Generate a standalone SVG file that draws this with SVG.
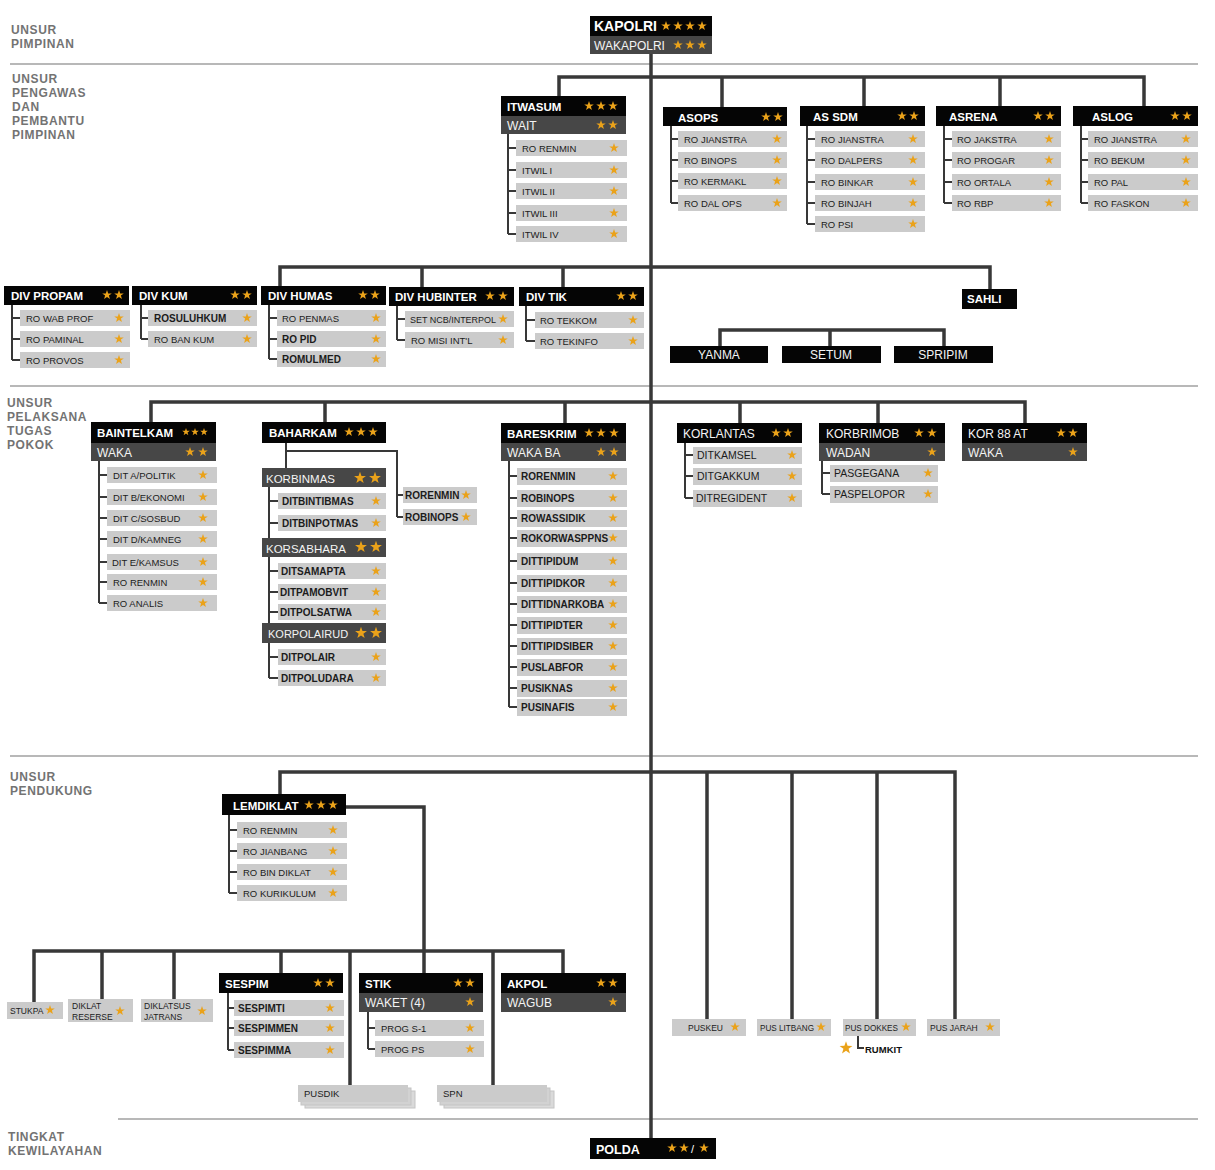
<svg xmlns="http://www.w3.org/2000/svg" width="1215" height="1170" viewBox="0 0 1215 1170">
<style>
.sec{font:bold 12px "Liberation Sans",Arial,sans-serif;fill:#737373;letter-spacing:0.6px}
.dv{stroke:#b8b8b8;stroke-width:2}
.k{fill:#050505}
.g{fill:#474747}
.c{fill:#cbcbcb}
.h{font:bold 11.5px "Liberation Sans",Arial,sans-serif;fill:#fff}
.hr{font:12px "Liberation Sans",Arial,sans-serif;fill:#f4f4f4}
.t{font:9.5px "Liberation Sans",Arial,sans-serif;fill:#1c1c1c}
.tb{font:bold 10px "Liberation Sans",Arial,sans-serif;fill:#1c1c1c}
.tm{font:10.5px "Liberation Sans",Arial,sans-serif;fill:#1c1c1c}
.ts{font:8.5px "Liberation Sans",Arial,sans-serif;fill:#1c1c1c}
.s{fill:#eaa21a}
.bar{stroke:#383838;stroke-width:3.5;fill:none}
.ln{stroke:#383838;stroke-width:2;fill:none}
</style>
<defs>
<path id="st" d="M0,-5L1.18,-1.62L4.76,-1.55L1.9,0.62L2.94,4.05L0,2L-2.94,4.05L-1.9,0.62L-4.76,-1.55L-1.18,-1.62Z"/>
</defs>
<rect width="1215" height="1170" fill="#fff"/>

<g id="sections">
<line class="dv" x1="10" y1="64" x2="1198" y2="64"/>
<line class="dv" x1="10" y1="386" x2="1198" y2="386"/>
<line class="dv" x1="10" y1="756" x2="1198" y2="756"/>
<line class="dv" x1="118" y1="1119" x2="1198" y2="1119"/>
<text class="sec" x="11" y="34">UNSUR</text>
<text class="sec" x="11" y="48">PIMPINAN</text>
<text class="sec" x="12" y="83">UNSUR</text>
<text class="sec" x="12" y="97">PENGAWAS</text>
<text class="sec" x="12" y="111">DAN</text>
<text class="sec" x="12" y="125">PEMBANTU</text>
<text class="sec" x="12" y="139">PIMPINAN</text>
<text class="sec" x="7" y="407">UNSUR</text>
<text class="sec" x="7" y="421">PELAKSANA</text>
<text class="sec" x="7" y="435">TUGAS</text>
<text class="sec" x="7" y="449">POKOK</text>
<text class="sec" x="10" y="781">UNSUR</text>
<text class="sec" x="10" y="795">PENDUKUNG</text>
<text class="sec" x="8" y="1141">TINGKAT</text>
<text class="sec" x="8" y="1155">KEWILAYAHAN</text>
</g>

<g id="connectors">
<path class="bar" d="M651,54V1138"/>
<path class="bar" d="M559,96V77H1144V106M722,77V107M864,77V106M1000,77V106"/>
<path class="bar" d="M280,286V267H990V289M422,267V287M563,267V287"/>
<path class="bar" d="M720,346V330H944V346M830,330V346"/>
<path class="bar" d="M151,422V402H1025V423M325,402V422M565,402V423M740,402V423M878,402V423"/>
<path class="bar" d="M280,794V772H955V1019M707,772V1019M792,772V1019M877,772V1019"/>
<path class="bar" d="M346,807H424V973"/>
<path class="bar" d="M34,1002V951H563V973M102,951V999M174,951V999M281,951V973M350,951V1085M493,951V1085"/>
<path class="ln" d="M508,134V234M508,148H516M508,170H516M508,191H516M508,213H516M508,234H516"/>
<path class="ln" d="M671,126V203M671,139H678M671,160H678M671,181H678M671,203H678"/>
<path class="ln" d="M807,126V224M807,139H815M807,160H815M807,182H815M807,203H815M807,224H815"/>
<path class="ln" d="M944,126V203M944,139H952M944,160H952M944,182H952M944,203H952"/>
<path class="ln" d="M1081,126V203M1081,139H1088M1081,160H1088M1081,182H1088M1081,203H1088"/>
<path class="ln" d="M12,305V360M12,318H20M12,339H20M12,360H20"/>
<path class="ln" d="M141,305V339M141,318H148M141,339H148"/>
<path class="ln" d="M269,305V359M269,318H277M269,339H277M269,359H277"/>
<path class="ln" d="M397,306V340M397,319H405M397,340H405"/>
<path class="ln" d="M526,306V341M526,320H535M526,341H535"/>
<path class="ln" d="M99,461V603M99,475H107M99,497H107M99,518H107M99,539H107M99,562H107M99,582H107M99,603H107"/>
<path class="ln" d="M286,443V468M286,451H397V517M397,495H403M397,517H403"/>
<path class="ln" d="M269,487V678M269,501H278M269,523H278M269,571H278M269,592H278M269,612H278M269,657H278M269,678H278"/>
<path class="ln" d="M509,461V707M509,476H517M509,498H517M509,518H517M509,538H517M509,561H517M509,583H517M509,604H517M509,625H517M509,646H517M509,667H517M509,688H517M509,707H517"/>
<path class="ln" d="M685,443V498M685,455H693M685,476H693M685,498H693"/>
<path class="ln" d="M822,461V494M822,473H830M822,494H830"/>
<path class="ln" d="M229,815V893M229,830H237M229,851H237M229,872H237M229,893H237"/>
<path class="ln" d="M228,993V1050M228,1008H234M228,1028H234M228,1050H234"/>
<path class="ln" d="M368,1012V1049M368,1028H375M368,1049H375"/>
<path class="ln" d="M858,1036V1048H864"/>
</g>

<g id="kapolri">
<rect class="k" x="590" y="16" width="122" height="20"/>
<text x="594" y="31" style="font:bold 14px 'Liberation Sans',Arial,sans-serif;fill:#fff">KAPOLRI</text>
<use href="#st" class="s" x="666" y="26"/><use href="#st" class="s" x="678" y="26"/><use href="#st" class="s" x="690" y="26"/><use href="#st" class="s" x="702" y="26"/>
<rect class="g" x="590" y="36" width="122" height="18"/>
<text class="hr" x="594" y="50">WAKAPOLRI</text>
<use href="#st" class="s" x="678" y="45"/><use href="#st" class="s" x="690" y="45"/><use href="#st" class="s" x="702" y="45"/>
</g>

<g id="itwasum">
<rect class="k" x="501" y="96" width="125" height="20"/>
<text class="h" x="507" y="111">ITWASUM</text>
<use href="#st" class="s" x="589" y="106"/><use href="#st" class="s" x="601" y="106"/><use href="#st" class="s" x="613" y="106"/>
<rect class="g" x="501" y="116" width="125" height="18"/>
<text class="hr" x="507" y="130">WAIT</text>
<use href="#st" class="s" x="601" y="125"/><use href="#st" class="s" x="613" y="125"/>
<rect class="c" x="516" y="140" width="111" height="16"/><text class="t" x="522" y="151.5">RO RENMIN</text><use href="#st" class="s" x="614" y="148"/>
<rect class="c" x="516" y="162" width="111" height="16"/><text class="t" x="522" y="173.5">ITWIL I</text><use href="#st" class="s" x="614" y="170"/>
<rect class="c" x="516" y="183" width="111" height="16"/><text class="t" x="522" y="194.5">ITWIL II</text><use href="#st" class="s" x="614" y="191"/>
<rect class="c" x="516" y="205" width="111" height="16"/><text class="t" x="522" y="216.5">ITWIL III</text><use href="#st" class="s" x="614" y="213"/>
<rect class="c" x="516" y="226" width="111" height="16"/><text class="t" x="522" y="237.5">ITWIL IV</text><use href="#st" class="s" x="614" y="234"/>
</g>

<g id="asops">
<rect class="k" x="663" y="107" width="124" height="19"/>
<text class="h" x="678" y="122">ASOPS</text>
<use href="#st" class="s" x="766" y="117"/><use href="#st" class="s" x="778" y="117"/>
<rect class="c" x="678" y="131" width="109" height="16"/><text class="t" x="684" y="142.5">RO JIANSTRA</text><use href="#st" class="s" x="777" y="139"/>
<rect class="c" x="678" y="152" width="109" height="16"/><text class="t" x="684" y="163.5">RO BINOPS</text><use href="#st" class="s" x="777" y="160"/>
<rect class="c" x="678" y="173" width="109" height="16"/><text class="t" x="684" y="184.5">RO KERMAKL</text><use href="#st" class="s" x="777" y="181"/>
<rect class="c" x="678" y="195" width="109" height="16"/><text class="t" x="684" y="206.5">RO DAL OPS</text><use href="#st" class="s" x="777" y="203"/>
</g>

<g id="assdm">
<rect class="k" x="800" y="106" width="125" height="20"/>
<text class="h" x="813" y="121">AS SDM</text>
<use href="#st" class="s" x="902" y="116"/><use href="#st" class="s" x="914" y="116"/>
<rect class="c" x="815" y="131" width="110" height="16"/><text class="t" x="821" y="142.5">RO JIANSTRA</text><use href="#st" class="s" x="913" y="139"/>
<rect class="c" x="815" y="152" width="110" height="16"/><text class="t" x="821" y="163.5">RO DALPERS</text><use href="#st" class="s" x="913" y="160"/>
<rect class="c" x="815" y="174" width="110" height="16"/><text class="t" x="821" y="185.5">RO BINKAR</text><use href="#st" class="s" x="913" y="182"/>
<rect class="c" x="815" y="195" width="110" height="16"/><text class="t" x="821" y="206.5">RO BINJAH</text><use href="#st" class="s" x="913" y="203"/>
<rect class="c" x="815" y="216" width="110" height="16"/><text class="t" x="821" y="227.5">RO PSI</text><use href="#st" class="s" x="913" y="224"/>
</g>

<g id="asrena">
<rect class="k" x="936" y="106" width="125" height="20"/>
<text class="h" x="949" y="121">ASRENA</text>
<use href="#st" class="s" x="1038" y="116"/><use href="#st" class="s" x="1050" y="116"/>
<rect class="c" x="952" y="131" width="109" height="16"/><text class="t" x="957" y="142.5">RO JAKSTRA</text><use href="#st" class="s" x="1049" y="139"/>
<rect class="c" x="952" y="152" width="109" height="16"/><text class="t" x="957" y="163.5">RO PROGAR</text><use href="#st" class="s" x="1049" y="160"/>
<rect class="c" x="952" y="174" width="109" height="16"/><text class="t" x="957" y="185.5">RO ORTALA</text><use href="#st" class="s" x="1049" y="182"/>
<rect class="c" x="952" y="195" width="109" height="16"/><text class="t" x="957" y="206.5">RO RBP</text><use href="#st" class="s" x="1049" y="203"/>
</g>

<g id="aslog">
<rect class="k" x="1073" y="106" width="125" height="20"/>
<text class="h" x="1092" y="121">ASLOG</text>
<use href="#st" class="s" x="1175" y="116"/><use href="#st" class="s" x="1187" y="116"/>
<rect class="c" x="1088" y="131" width="110" height="16"/><text class="t" x="1094" y="142.5">RO JIANSTRA</text><use href="#st" class="s" x="1186" y="139"/>
<rect class="c" x="1088" y="152" width="110" height="16"/><text class="t" x="1094" y="163.5">RO BEKUM</text><use href="#st" class="s" x="1186" y="160"/>
<rect class="c" x="1088" y="174" width="110" height="16"/><text class="t" x="1094" y="185.5">RO PAL</text><use href="#st" class="s" x="1186" y="182"/>
<rect class="c" x="1088" y="195" width="110" height="16"/><text class="t" x="1094" y="206.5">RO FASKON</text><use href="#st" class="s" x="1186" y="203"/>
</g>

<g id="divpropam">
<rect class="k" x="4" y="286" width="125" height="19"/>
<text class="h" x="11" y="300">DIV PROPAM</text>
<use href="#st" class="s" x="107" y="295"/><use href="#st" class="s" x="119" y="295"/>
<rect class="c" x="20" y="310" width="110" height="16"/><text class="t" x="26" y="321.5">RO WAB PROF</text><use href="#st" class="s" x="119" y="318"/>
<rect class="c" x="20" y="331" width="110" height="16"/><text class="t" x="26" y="342.5">RO PAMINAL</text><use href="#st" class="s" x="119" y="339"/>
<rect class="c" x="20" y="352" width="110" height="16"/><text class="t" x="26" y="363.5">RO PROVOS</text><use href="#st" class="s" x="119" y="360"/>
</g>

<g id="divkum">
<rect class="k" x="132" y="286" width="125" height="19"/>
<text class="h" x="139" y="300">DIV KUM</text>
<use href="#st" class="s" x="235" y="295"/><use href="#st" class="s" x="247" y="295"/>
<rect class="c" x="148" y="310" width="109" height="16"/><text class="tb" x="154" y="321.5">ROSULUHKUM</text><use href="#st" class="s" x="247" y="318"/>
<rect class="c" x="148" y="331" width="109" height="16"/><text class="t" x="154" y="342.5">RO BAN KUM</text><use href="#st" class="s" x="247" y="339"/>
</g>

<g id="divhumas">
<rect class="k" x="261" y="286" width="125" height="19"/>
<text class="h" x="268" y="300">DIV HUMAS</text>
<use href="#st" class="s" x="363" y="295"/><use href="#st" class="s" x="375" y="295"/>
<rect class="c" x="277" y="310" width="109" height="16"/><text class="t" x="282" y="321.5">RO PENMAS</text><use href="#st" class="s" x="376" y="318"/>
<rect class="c" x="277" y="331" width="109" height="16"/><text class="tb" x="282" y="342.5">RO PID</text><use href="#st" class="s" x="376" y="339"/>
<rect class="c" x="277" y="351" width="109" height="16"/><text class="tb" x="282" y="362.5">ROMULMED</text><use href="#st" class="s" x="376" y="359"/>
</g>

<g id="divhubinter">
<rect class="k" x="389" y="287" width="125" height="19"/>
<text class="h" x="395" y="301">DIV HUBINTER</text>
<use href="#st" class="s" x="490" y="296"/><use href="#st" class="s" x="503" y="296"/>
<rect class="c" x="405" y="311" width="109" height="16"/><text class="t" x="410" y="322.5" textLength="86" lengthAdjust="spacingAndGlyphs">SET NCB/INTERPOL</text><use href="#st" class="s" x="503" y="319"/>
<rect class="c" x="405" y="332" width="109" height="16"/><text class="t" x="411" y="343.5">RO MISI INT'L</text><use href="#st" class="s" x="503" y="340"/>
</g>

<g id="divtik">
<rect class="k" x="519" y="287" width="125" height="19"/>
<text class="h" x="526" y="301">DIV TIK</text>
<use href="#st" class="s" x="621" y="296"/><use href="#st" class="s" x="633" y="296"/>
<rect class="c" x="535" y="312" width="109" height="16"/><text class="t" x="540" y="323.5">RO TEKKOM</text><use href="#st" class="s" x="633" y="320"/>
<rect class="c" x="535" y="333" width="109" height="16"/><text class="t" x="540" y="344.5">RO TEKINFO</text><use href="#st" class="s" x="633" y="341"/>
</g>

<g id="sahli">
<rect class="k" x="962" y="289" width="55" height="20"/>
<text class="h" x="967" y="303">SAHLI</text>
</g>
<g id="yanma">
<rect class="k" x="670" y="346" width="98" height="17"/>
<text class="hr" x="719" y="359" text-anchor="middle">YANMA</text>
</g>
<g id="setum">
<rect class="k" x="782" y="346" width="99" height="17"/>
<text class="hr" x="831" y="359" text-anchor="middle">SETUM</text>
</g>
<g id="spripim">
<rect class="k" x="894" y="346" width="99" height="17"/>
<text class="hr" x="943" y="359" text-anchor="middle">SPRIPIM</text>
</g>

<g id="baintelkam">
<rect class="k" x="91" y="422" width="125" height="21"/>
<text class="h" x="97" y="437">BAINTELKAM</text>
<use href="#st" class="s" transform="translate(186,432) scale(0.8)"/><use href="#st" class="s" transform="translate(195,432) scale(0.8)"/><use href="#st" class="s" transform="translate(204,432) scale(0.8)"/>
<rect class="g" x="91" y="443" width="125" height="18"/>
<text class="hr" x="97" y="457">WAKA</text>
<use href="#st" class="s" x="190" y="452"/><use href="#st" class="s" x="203" y="452"/>
<rect class="c" x="107" y="467" width="110" height="16"/><text class="t" x="113" y="478.5">DIT A/POLITIK</text><use href="#st" class="s" x="203" y="475"/>
<rect class="c" x="107" y="489" width="110" height="16"/><text class="t" x="113" y="500.5">DIT B/EKONOMI</text><use href="#st" class="s" x="203" y="497"/>
<rect class="c" x="107" y="510" width="110" height="16"/><text class="t" x="113" y="521.5">DIT C/SOSBUD</text><use href="#st" class="s" x="203" y="518"/>
<rect class="c" x="107" y="531" width="110" height="16"/><text class="t" x="113" y="542.5">DIT D/KAMNEG</text><use href="#st" class="s" x="203" y="539"/>
<rect class="c" x="107" y="554" width="110" height="16"/><text class="t" x="112" y="565.5">DIT E/KAMSUS</text><use href="#st" class="s" x="203" y="562"/>
<rect class="c" x="107" y="574" width="110" height="16"/><text class="t" x="113" y="585.5">RO RENMIN</text><use href="#st" class="s" x="203" y="582"/>
<rect class="c" x="107" y="595" width="110" height="16"/><text class="t" x="113" y="606.5">RO ANALIS</text><use href="#st" class="s" x="203" y="603"/>
</g>

<g id="baharkam">
<rect class="k" x="262" y="422" width="124" height="21"/>
<text class="h" x="269" y="437">BAHARKAM</text>
<use href="#st" class="s" x="349" y="432"/><use href="#st" class="s" x="361" y="432"/><use href="#st" class="s" x="373" y="432"/>
</g>
<g id="korbinmas">
<rect class="g" x="262" y="468" width="124" height="19"/>
<text class="hr" x="266" y="483" style="font-size:11.5px">KORBINMAS</text>
<use href="#st" class="s" transform="translate(360,478) scale(1.25)"/><use href="#st" class="s" transform="translate(375,478) scale(1.25)"/>
<rect class="c" x="278" y="493" width="108" height="16"/><text class="tb" x="282" y="504.5">DITBINTIBMAS</text><use href="#st" class="s" x="376" y="501"/>
<rect class="c" x="278" y="515" width="108" height="16"/><text class="tb" x="282" y="526.5">DITBINPOTMAS</text><use href="#st" class="s" x="376" y="523"/>
</g>
<g id="korsabhara">
<rect class="g" x="262" y="538" width="124" height="19"/>
<text class="hr" x="266" y="553" style="font-size:11.5px">KORSABHARA</text>
<use href="#st" class="s" transform="translate(361,547) scale(1.25)"/><use href="#st" class="s" transform="translate(376,547) scale(1.25)"/>
<rect class="c" x="278" y="563" width="108" height="16"/><text class="tb" x="281" y="574.5">DITSAMAPTA</text><use href="#st" class="s" x="376" y="571"/>
<rect class="c" x="278" y="584" width="108" height="16"/><text class="tb" x="280" y="595.5">DITPAMOBVIT</text><use href="#st" class="s" x="376" y="592"/>
<rect class="c" x="278" y="604" width="108" height="16"/><text class="tb" x="280" y="615.5">DITPOLSATWA</text><use href="#st" class="s" x="376" y="612"/>
</g>
<g id="korpolairud">
<rect class="g" x="262" y="623" width="124" height="20"/>
<text class="hr" x="268" y="638" style="font-size:11px">KORPOLAIRUD</text>
<use href="#st" class="s" transform="translate(361,633) scale(1.25)"/><use href="#st" class="s" transform="translate(376,633) scale(1.25)"/>
<rect class="c" x="278" y="649" width="108" height="16"/><text class="tb" x="281" y="660.5">DITPOLAIR</text><use href="#st" class="s" x="376" y="657"/>
<rect class="c" x="278" y="670" width="108" height="16"/><text class="tb" x="281" y="681.5">DITPOLUDARA</text><use href="#st" class="s" x="376" y="678"/>
</g>
<g id="rorenmin-baharkam">
<rect class="c" x="403" y="487" width="74" height="16"/><text class="tb" x="405" y="498.5">RORENMIN</text><use href="#st" class="s" x="466" y="495"/>
</g>
<g id="robinops-baharkam">
<rect class="c" x="403" y="509" width="74" height="16"/><text class="tb" x="405" y="520.5">ROBINOPS</text><use href="#st" class="s" x="466" y="517"/>
</g>

<g id="bareskrim">
<rect class="k" x="501" y="423" width="125" height="20"/>
<text class="h" x="507" y="438">BARESKRIM</text>
<use href="#st" class="s" x="589" y="433"/><use href="#st" class="s" x="601" y="433"/><use href="#st" class="s" x="614" y="433"/>
<rect class="g" x="501" y="443" width="125" height="18"/>
<text class="hr" x="507" y="457">WAKA BA</text>
<use href="#st" class="s" x="601" y="452"/><use href="#st" class="s" x="614" y="452"/>
<rect class="c" x="517" y="468" width="110" height="17"/><text class="tb" x="521" y="480">RORENMIN</text><use href="#st" class="s" x="613" y="476"/>
<rect class="c" x="517" y="490" width="110" height="17"/><text class="tb" x="521" y="502">ROBINOPS</text><use href="#st" class="s" x="613" y="498"/>
<rect class="c" x="517" y="510" width="110" height="17"/><text class="tb" x="521" y="522">ROWASSIDIK</text><use href="#st" class="s" x="613" y="518"/>
<rect class="c" x="517" y="530" width="110" height="17"/><text class="tb" x="521" y="542">ROKORWASPPNS</text><use href="#st" class="s" x="613" y="538"/>
<rect class="c" x="517" y="553" width="110" height="17"/><text class="tb" x="521" y="565">DITTIPIDUM</text><use href="#st" class="s" x="613" y="561"/>
<rect class="c" x="517" y="575" width="110" height="17"/><text class="tb" x="521" y="587">DITTIPIDKOR</text><use href="#st" class="s" x="613" y="583"/>
<rect class="c" x="517" y="596" width="110" height="17"/><text class="tb" x="521" y="608">DITTIDNARKOBA</text><use href="#st" class="s" x="613" y="604"/>
<rect class="c" x="517" y="617" width="110" height="17"/><text class="tb" x="521" y="629">DITTIPIDTER</text><use href="#st" class="s" x="613" y="625"/>
<rect class="c" x="517" y="638" width="110" height="17"/><text class="tb" x="521" y="650">DITTIPIDSIBER</text><use href="#st" class="s" x="613" y="646"/>
<rect class="c" x="517" y="659" width="110" height="17"/><text class="tb" x="521" y="671">PUSLABFOR</text><use href="#st" class="s" x="613" y="667"/>
<rect class="c" x="517" y="680" width="110" height="17"/><text class="tb" x="521" y="692">PUSIKNAS</text><use href="#st" class="s" x="613" y="688"/>
<rect class="c" x="517" y="699" width="110" height="17"/><text class="tb" x="521" y="711">PUSINAFIS</text><use href="#st" class="s" x="613" y="707"/>
</g>

<g id="korlantas">
<rect class="k" x="677" y="423" width="125" height="20"/>
<text class="hr" x="683" y="438">KORLANTAS</text>
<use href="#st" class="s" x="776" y="433"/><use href="#st" class="s" x="788" y="433"/>
<rect class="c" x="693" y="447" width="109" height="17"/><text class="tm" x="697" y="459">DITKAMSEL</text><use href="#st" class="s" x="792" y="455"/>
<rect class="c" x="693" y="468" width="109" height="17"/><text class="tm" x="697" y="480">DITGAKKUM</text><use href="#st" class="s" x="792" y="476"/>
<rect class="c" x="693" y="490" width="109" height="17"/><text class="tm" x="696" y="502">DITREGIDENT</text><use href="#st" class="s" x="792" y="498"/>
</g>

<g id="korbrimob">
<rect class="k" x="819" y="423" width="126" height="20"/>
<text class="hr" x="826" y="438">KORBRIMOB</text>
<use href="#st" class="s" x="919" y="433"/><use href="#st" class="s" x="932" y="433"/>
<rect class="g" x="819" y="443" width="126" height="18"/>
<text class="hr" x="826" y="457">WADAN</text>
<use href="#st" class="s" x="932" y="452"/>
<rect class="c" x="830" y="465" width="108" height="17"/><text class="tm" x="834" y="477">PASGEGANA</text><use href="#st" class="s" x="928" y="473"/>
<rect class="c" x="830" y="486" width="108" height="17"/><text class="tm" x="834" y="498">PASPELOPOR</text><use href="#st" class="s" x="928" y="494"/>
</g>

<g id="kor88at">
<rect class="k" x="962" y="423" width="125" height="20"/>
<text class="hr" x="968" y="438">KOR 88 AT</text>
<use href="#st" class="s" x="1061" y="433"/><use href="#st" class="s" x="1073" y="433"/>
<rect class="g" x="962" y="443" width="125" height="18"/>
<text class="hr" x="968" y="457">WAKA</text>
<use href="#st" class="s" x="1073" y="452"/>
</g>

<g id="lemdiklat">
<rect class="k" x="222" y="794" width="124" height="21"/>
<text class="h" x="233" y="810">LEMDIKLAT</text>
<use href="#st" class="s" x="309" y="805"/><use href="#st" class="s" x="321" y="805"/><use href="#st" class="s" x="333" y="805"/>
<rect class="c" x="237" y="822" width="110" height="16"/><text class="t" x="243" y="833.5">RO RENMIN</text><use href="#st" class="s" x="333" y="830"/>
<rect class="c" x="237" y="843" width="110" height="16"/><text class="t" x="243" y="854.5">RO JIANBANG</text><use href="#st" class="s" x="333" y="851"/>
<rect class="c" x="237" y="864" width="110" height="16"/><text class="t" x="243" y="875.5">RO BIN DIKLAT</text><use href="#st" class="s" x="333" y="872"/>
<rect class="c" x="237" y="885" width="110" height="16"/><text class="t" x="243" y="896.5">RO KURIKULUM</text><use href="#st" class="s" x="333" y="893"/>
</g>

<g id="stukpa">
<rect class="c" x="7" y="1002" width="56" height="17"/>
<text class="ts" x="10" y="1014" font-weight="bold">STUKPA</text>
<use href="#st" class="s" x="50" y="1010"/>
</g>
<g id="diklat-reserse">
<rect class="c" x="68" y="999" width="65" height="23"/>
<text class="ts" x="72" y="1009">DIKLAT</text>
<text class="ts" x="72" y="1020">RESERSE</text>
<use href="#st" class="s" x="120" y="1011"/>
</g>
<g id="diklatsus-jatrans">
<rect class="c" x="141" y="999" width="72" height="23"/>
<text class="ts" x="144" y="1009">DIKLATSUS</text>
<text class="ts" x="144" y="1020">JATRANS</text>
<use href="#st" class="s" x="202" y="1011"/>
</g>

<g id="sespim">
<rect class="k" x="219" y="973" width="124" height="20"/>
<text class="h" x="225" y="988">SESPIM</text>
<use href="#st" class="s" x="318" y="983"/><use href="#st" class="s" x="330" y="983"/>
<rect class="c" x="234" y="1000" width="110" height="16"/><text class="tb" x="238" y="1011.5">SESPIMTI</text><use href="#st" class="s" x="330" y="1008"/>
<rect class="c" x="234" y="1020" width="110" height="16"/><text class="tb" x="238" y="1031.5">SESPIMMEN</text><use href="#st" class="s" x="330" y="1028"/>
<rect class="c" x="234" y="1042" width="110" height="16"/><text class="tb" x="238" y="1053.5">SESPIMMA</text><use href="#st" class="s" x="330" y="1050"/>
</g>

<g id="stik">
<rect class="k" x="359" y="973" width="124" height="20"/>
<text class="h" x="365" y="988">STIK</text>
<use href="#st" class="s" x="458" y="983"/><use href="#st" class="s" x="470" y="983"/>
<rect class="g" x="359" y="993" width="124" height="19"/>
<text class="hr" x="365" y="1007">WAKET (4)</text>
<use href="#st" class="s" x="470" y="1002"/>
<rect class="c" x="375" y="1020" width="109" height="16"/><text class="t" x="381" y="1031.5">PROG S-1</text><use href="#st" class="s" x="470" y="1028"/>
<rect class="c" x="375" y="1041" width="109" height="16"/><text class="t" x="381" y="1052.5">PROG PS</text><use href="#st" class="s" x="470" y="1049"/>
</g>

<g id="akpol">
<rect class="k" x="501" y="973" width="125" height="20"/>
<text class="h" x="507" y="988">AKPOL</text>
<use href="#st" class="s" x="601" y="983"/><use href="#st" class="s" x="613" y="983"/>
<rect class="g" x="501" y="993" width="125" height="19"/>
<text class="hr" x="507" y="1007">WAGUB</text>
<use href="#st" class="s" x="613" y="1002"/>
</g>

<g id="pusdik">
<rect x="305" y="1091" width="110" height="17" fill="#dadada" stroke="#c4c4c4"/>
<rect x="301" y="1088" width="110" height="17" fill="#d2d2d2" stroke="#c4c4c4"/>
<rect class="c" x="298" y="1085" width="110" height="17"/>
<text class="t" x="304" y="1097">PUSDIK</text>
</g>
<g id="spn">
<rect x="444" y="1091" width="110" height="17" fill="#dadada" stroke="#c4c4c4"/>
<rect x="440" y="1088" width="110" height="17" fill="#d2d2d2" stroke="#c4c4c4"/>
<rect class="c" x="437" y="1085" width="110" height="17"/>
<text class="t" x="443" y="1097">SPN</text>
</g>

<g id="puskeu">
<rect class="c" x="672" y="1019" width="74" height="17"/>
<text class="ts" x="688" y="1031">PUSKEU</text>
<use href="#st" class="s" x="735" y="1027"/>
</g>
<g id="puslitbang">
<rect class="c" x="757" y="1019" width="74" height="17"/>
<text class="ts" x="760" y="1031" textLength="54" lengthAdjust="spacingAndGlyphs">PUS LITBANG</text>
<use href="#st" class="s" x="821" y="1027"/>
</g>
<g id="pusdokkes">
<rect class="c" x="843" y="1019" width="73" height="17"/>
<text class="ts" x="845" y="1031" textLength="53" lengthAdjust="spacingAndGlyphs">PUS DOKKES</text>
<use href="#st" class="s" x="906" y="1027"/>
</g>
<g id="pusjarah">
<rect class="c" x="927" y="1019" width="73" height="17"/>
<text class="ts" x="930" y="1031">PUS JARAH</text>
<use href="#st" class="s" x="990" y="1027"/>
</g>
<g id="rumkit">
<use href="#st" class="s" transform="translate(846,1048) scale(1.35)"/>
<text x="865" y="1053" style="font:bold 9.5px 'Liberation Sans',Arial,sans-serif;fill:#111">RUMKIT</text>
</g>

<g id="polda">
<rect class="k" x="590" y="1138" width="126" height="21"/>
<text x="596" y="1154" style="font:bold 12.5px 'Liberation Sans',Arial,sans-serif;fill:#fff">POLDA</text>
<use href="#st" class="s" x="672" y="1148"/><use href="#st" class="s" x="684" y="1148"/>
<text x="691" y="1153" style="font:11px 'Liberation Sans',Arial,sans-serif;fill:#fff">/</text>
<use href="#st" class="s" x="704" y="1148"/>
</g>
</svg>
